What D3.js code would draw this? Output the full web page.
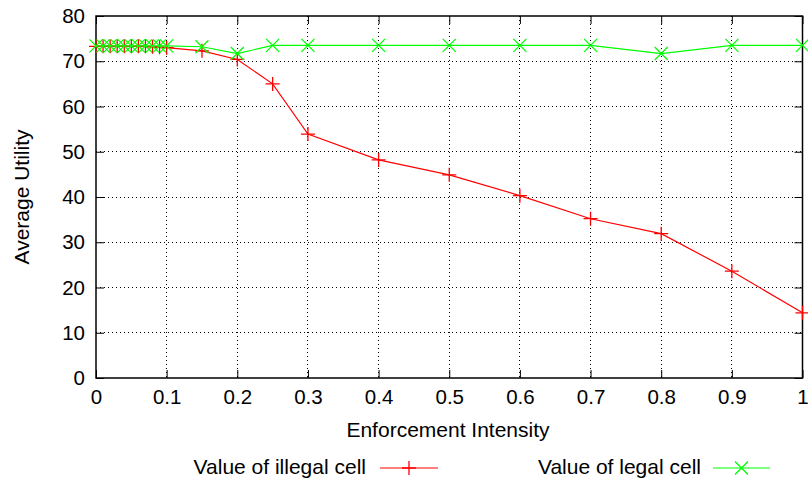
<!DOCTYPE html>
<html><head><meta charset="utf-8">
<script src="https://cdn.jsdelivr.net/npm/d3@7"></script>
<style>body{margin:0;background:#fff}svg{display:block}text{font-family:"Liberation Sans",Arial,sans-serif;fill:#000}</style>
</head><body>
<svg id="c" width="808" height="485"></svg>
<script>
const xValues = [0,0.01,0.02,0.03,0.04,0.05,0.06,0.07,0.08,0.09,0.1,0.15,0.2,0.25,0.3,0.4,0.5,0.6,0.7,0.8,0.9,1];
const illegalValues = [73.3,73.3,73.3,73.3,73.3,73.3,73.3,73.3,73.2,73.1,73.0,72.3,70.4,65.0,53.9,48.2,44.9,40.3,35.2,31.9,23.6,14.4];
const legalValues = [73.4,73.4,73.4,73.4,73.4,73.4,73.4,73.4,73.4,73.4,73.4,73.2,71.7,73.5,73.5,73.5,73.5,73.5,73.5,71.7,73.5,73.5];
const xTicks = [0,0.1,0.2,0.3,0.4,0.5,0.6,0.7,0.8,0.9,1];
const yTicks = [0,10,20,30,40,50,60,70,80];
const seriesNames = ["Value of illegal cell","Value of legal cell"];

const svg = d3.select("#c");
const L=96, R=802.5, T=16, B=378;
const x = d3.scaleLinear().domain([0,1]).range([L,R]);
const y = d3.scaleLinear().domain([0,80]).range([B,T]);

// grid
const g = svg.append("g");
g.selectAll(".gx").data(xTicks.slice(1,-1)).join("line")
  .attr("x1",d=>x(d)).attr("x2",d=>x(d)).attr("y1",T).attr("y2",B)
  .attr("stroke","#000").attr("stroke-width",1).attr("stroke-dasharray","1,3").attr("shape-rendering","crispEdges");
g.selectAll(".gy").data(yTicks.slice(1,-1)).join("line")
  .attr("x1",L).attr("x2",R).attr("y1",d=>y(d)).attr("y2",d=>y(d))
  .attr("stroke","#000").attr("stroke-width",1).attr("stroke-dasharray","1,3").attr("shape-rendering","crispEdges");

// axes (ticks inward, mirrored)
const tl = 8;
const fs = 20.5;
const fl = 21;
const ax = svg.append("g").attr("transform",`translate(0,${B})`)
  .call(d3.axisBottom(x).tickValues(xTicks).tickFormat(d3.format("~g")).tickSizeInner(-tl).tickSizeOuter(0).tickPadding(11));
const ay = svg.append("g").attr("transform",`translate(${L},0)`)
  .call(d3.axisLeft(y).tickValues(yTicks).tickSizeInner(-tl).tickSizeOuter(0).tickPadding(11));
const at = svg.append("g").attr("transform",`translate(0,${T})`)
  .call(d3.axisTop(x).tickValues(xTicks).tickFormat("").tickSizeInner(-tl).tickSizeOuter(0));
const ar = svg.append("g").attr("transform",`translate(${R},0)`)
  .call(d3.axisRight(y).tickValues(yTicks).tickFormat("").tickSizeInner(-tl).tickSizeOuter(0));
[ax,ay,at,ar].forEach(a=>{
  a.select(".domain").remove();
  a.selectAll("line").attr("stroke","#000").attr("stroke-width",1);
  a.selectAll("text").style("font-size",fs+"px").style("font-family","'Liberation Sans',Arial,sans-serif").attr("fill","#000");
});
ax.selectAll("text").attr("dy","0.71em");
svg.append("rect").attr("x",L).attr("y",T).attr("width",R-L).attr("height",B-T)
  .attr("fill","none").attr("stroke","#000").attr("stroke-width",1.5);

// series
const plus = (sel, s) => sel.attr("d", `M${-s},0H${s}M0,${-s}V${s}`);
const cross = (sel, s) => sel.attr("d", `M${-s},${-s}L${s},${s}M${-s},${s}L${s},${-s}`);
const line = d3.line().x(d=>x(d[0])).y(d=>y(d[1]));
const redData = xValues.map((v,i)=>[v,illegalValues[i]]);
const greenData = xValues.map((v,i)=>[v,legalValues[i]]);
svg.append("path").datum(redData).attr("d",line).attr("fill","none").attr("stroke","#ff0000").attr("stroke-width",1.2);
svg.selectAll(".pr").data(redData).join("path").attr("transform",d=>`translate(${x(d[0])},${y(d[1])})`)
  .call(plus,7).attr("stroke","#ff0000").attr("stroke-width",1.3).attr("fill","none");
svg.append("path").datum(greenData).attr("d",line).attr("fill","none").attr("stroke","#00ff00").attr("stroke-width",1.2);
svg.selectAll(".pg").data(greenData).join("path").attr("transform",d=>`translate(${x(d[0])},${y(d[1])})`)
  .call(cross,6.5).attr("stroke","#00ff00").attr("stroke-width",1.3).attr("fill","none");

// axis titles
svg.append("text").attr("x",448).attr("y",437).attr("text-anchor","middle").style("font-size",fl+"px").text("Enforcement Intensity");
svg.append("text").attr("transform",`translate(29,${(T+B)/2}) rotate(-90)`).attr("text-anchor","middle").style("font-size",fl+"px").text("Average Utility");

// legend
const leg = [
  {name:seriesNames[0], tx:366, sx1:380, sx2:438, color:"#ff0000", mk:plus},
  {name:seriesNames[1], tx:701, sx1:713, sx2:770, color:"#00ff00", mk:cross}
];
const ly = 467;
leg.forEach(l=>{
  svg.append("text").attr("x",l.tx).attr("y",ly).attr("dy","0.35em").attr("text-anchor","end").style("font-size",fl+"px").text(l.name);
  svg.append("line").attr("x1",l.sx1).attr("x2",l.sx2).attr("y1",ly+1).attr("y2",ly+1).attr("stroke",l.color).attr("stroke-width",1.2);
  svg.append("path").attr("transform",`translate(${(l.sx1+l.sx2)/2},${ly+1})`).call(l.mk, l.mk===plus?7:6.5)
    .attr("stroke",l.color).attr("stroke-width",1.3).attr("fill","none");
});
</script>
</body></html>
